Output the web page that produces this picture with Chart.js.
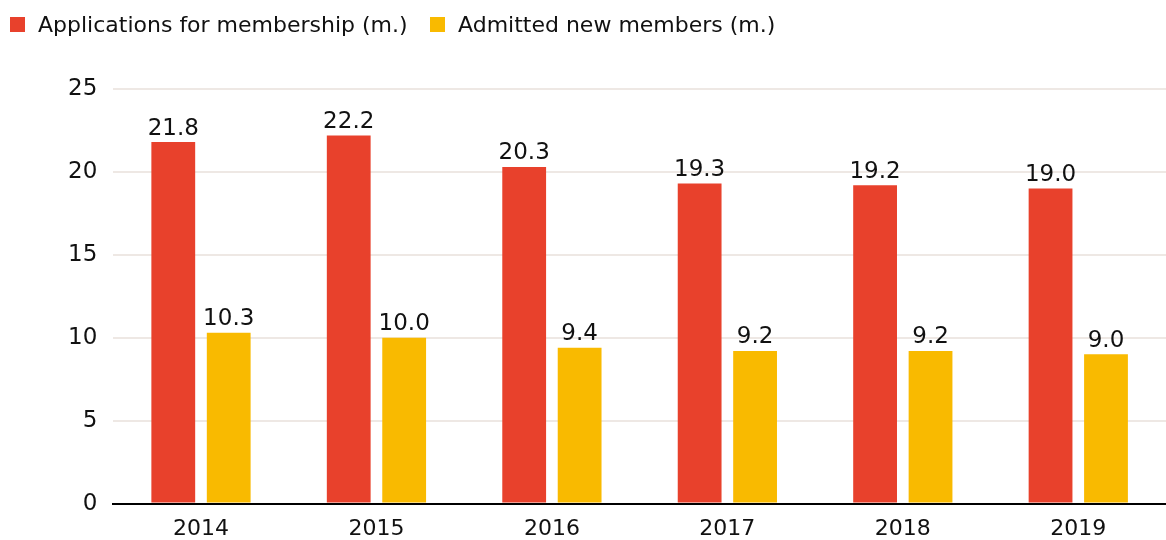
<!DOCTYPE html>
<html>
<head>
<meta charset="utf-8">
<script src="https://cdn.jsdelivr.net/npm/chart.js@4"></script>
<style>
  html, body { margin: 0; padding: 0; background: #fff; }
  #wrap { width: 1166px; height: 540px; position: relative; }
  .legend-item {
    position: absolute; top: 9px; height: 30px;
    display: flex; align-items: center;
    font: 22px "DejaVu Sans", sans-serif; color: #111; white-space: nowrap;
  }
  .legend-item span.box { width: 15px; height: 15px; margin-right: 13px; }
</style>
</head>
<body>
<div id="wrap">
  <canvas id="chart"></canvas>
  <div id="legend"></div>
</div>
<script>
(function() {
    'use strict';

    var years = ['2014', '2015', '2016', '2017', '2018', '2019'];
    var applications = [21.8, 22.2, 20.3, 19.3, 19.2, 19.0];
    var admitted = [10.3, 10.0, 9.4, 9.2, 9.2, 9.0];
    var yTicks = [0, 5, 10, 15, 20, 25];

    var redColor = '#e8412c';
    var yellowColor = '#f9ba00';
    var fontFamily = '"DejaVu Sans", sans-serif';

    // Draws the value above each bar.
    var valueLabels = {
        id: 'valueLabels',
        afterDatasetsDraw: function(chart) {
            var ctx = chart.ctx;
            ctx.save();
            ctx.font = '23px ' + fontFamily;
            ctx.fillStyle = '#111';
            ctx.textAlign = 'center';
            ctx.textBaseline = 'bottom';
            chart.data.datasets.forEach(function(ds, i) {
                chart.getDatasetMeta(i).data.forEach(function(bar, j) {
                    ctx.fillText(ds.data[j].toFixed(1), bar.x, bar.y - 2);
                });
            });
            ctx.restore();
        }
    };

    var chart = new Chart(document.getElementById('chart').getContext('2d'), {
        type: 'bar',
        data: {
            labels: years,
            datasets: [{
                label: 'Applications for membership (m.)',
                data: applications,
                backgroundColor: redColor,
                categoryPercentage: 0.632,
                barPercentage: 0.79
            }, {
                label: 'Admitted new members (m.)',
                data: admitted,
                backgroundColor: yellowColor,
                categoryPercentage: 0.632,
                barPercentage: 0.79
            }]
        },
        options: {
            responsive: true,
            maintainAspectRatio: false,
            animation: false,
            layout: { padding: { left: 52, right: 0, top: 89, bottom: -14 } },
            plugins: {
                legend: { display: false },
                tooltip: { enabled: false }
            },
            scales: {
                x: {
                    grid: { display: false, drawTicks: false },
                    border: { color: '#000', width: 2 },
                    ticks: {
                        color: '#111',
                        padding: 12,
                        font: { family: fontFamily, size: 22 }
                    }
                },
                y: {
                    min: 0,
                    max: 25,
                    afterBuildTicks: function(axis) {
                        axis.ticks = yTicks.map(function(v) { return { value: v }; });
                    },
                    grid: { color: '#eee8e4', lineWidth: 2, drawTicks: false },
                    border: { display: false },
                    ticks: {
                        color: '#111',
                        padding: 16,
                        font: { family: fontFamily, size: 23 }
                    }
                }
            }
        },
        plugins: [valueLabels]
    });

    // HTML legend built from the datasets.
    var legendLeft = [10, 430];
    var legend = document.getElementById('legend');
    chart.data.datasets.forEach(function(ds, i) {
        var item = document.createElement('div');
        item.className = 'legend-item';
        item.style.left = legendLeft[i] + 'px';
        var box = document.createElement('span');
        box.className = 'box';
        box.style.background = ds.backgroundColor;
        item.appendChild(box);
        item.appendChild(document.createTextNode(ds.label));
        legend.appendChild(item);
    });
})();
</script>
</body>
</html>
